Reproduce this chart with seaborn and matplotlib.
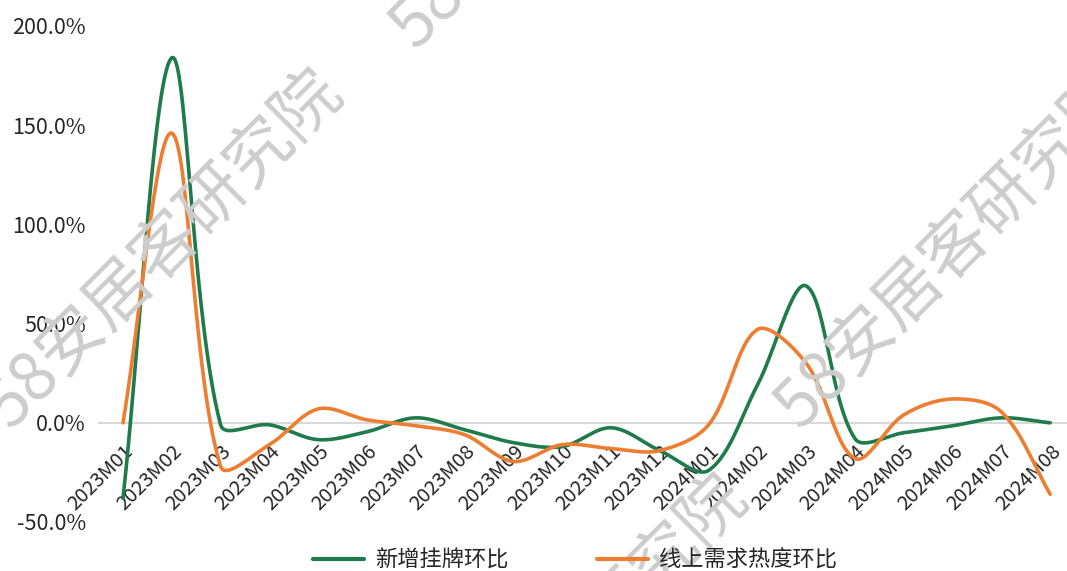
import numpy as np
import pandas as pd
import matplotlib.pyplot as plt
import seaborn as sns

# data (month-on-month %)
months = ["2023M01", "2023M02", "2023M03", "2023M04", "2023M05", "2023M06", "2023M07",
          "2023M08", "2023M09", "2023M10", "2023M11", "2023M12", "2024M01", "2024M02",
          "2024M03", "2024M04", "2024M05", "2024M06", "2024M07", "2024M08"]
new_listing = [-38, 184, -1, -1, -8.5, -4.5, 2.5, -3.5, -10, -12, -2.5, -14, -24, 19,
               69, -8, -5, -1.5, 2.5, 0]
online_demand = [0, 146, -22, -11, 7, 1.5, -1.5, -6, -19.5, -11, -13, -14, -1, 47,
                 30, -18, 4, 12, 5.5, -36]
series_names = ["新增挂牌环比", "线上需求热度环比"]
colors = ["#1F7A4C", "#ED7D31"]

W, H = 1067, 571
SX, SY = 48.8, 1.985  # screen pixels per category / per percent


def smooth(y, n=30):
    # excel-like smoothed line: bezier with distance-weighted tangents in screen space
    p = np.column_stack([np.arange(len(y)) * SX, np.asarray(y, float) * SY])
    p = np.vstack([p[0], p, p[-1]])
    out = []
    for i in range(1, len(p) - 2):
        p0, p1, p2, p3 = p[i - 1], p[i], p[i + 1], p[i + 2]
        d01 = np.linalg.norm(p1 - p0)
        d12 = np.linalg.norm(p2 - p1)
        d23 = np.linalg.norm(p3 - p2)
        c1 = p1 + (p2 - p0) * d12 / (d01 + d12) / 3 if d01 + d12 > 0 else p1
        c2 = p2 - (p3 - p1) * d12 / (d12 + d23) / 3 if d12 + d23 > 0 else p2
        t = np.linspace(0, 1, n)[:, None]
        seg = (1 - t) ** 3 * p1 + 3 * (1 - t) ** 2 * t * c1 + 3 * (1 - t) * t ** 2 * c2 + t ** 3 * p2
        out.append(seg if i == 1 else seg[1:])
    s = np.vstack(out)
    return s[:, 0] / SX, s[:, 1] / SY


frames = []
for name, vals in zip(series_names, [new_listing, online_demand]):
    sx, sy = smooth(vals)
    frames.append(pd.DataFrame({"x": sx, "y": sy, "series": name}))
df = pd.concat(frames, ignore_index=True)

sns.set_style("white")
plt.rcParams['font.family'] = ['Noto Sans CJK SC', 'DejaVu Sans']

fig = plt.figure(figsize=(W / 100, H / 100), dpi=100)
ax = fig.add_axes([98.6 / W, (H - 522) / H, (W - 98.6) / W, (522 - 26) / H])

# watermark
for cx, cy in [(165, 250), (955, 250), (570, -130), (570, 655)]:
    fig.text(cx / W, 1 - cy / H, "58安居客研究院", fontsize=48, color="#cdcdcd",
             rotation=45, ha="center", va="center", zorder=0)

sns.lineplot(data=df, x="x", y="y", hue="series", palette=colors, sort=False,
             estimator=None, linewidth=2.6, ax=ax, legend=False, zorder=3)

# x axis crosses at 0 (set before the labels, it resets the ticks)
for side in ["top", "right", "left"]:
    ax.spines[side].set_visible(False)
ax.spines["bottom"].set_position(("data", 0))
ax.spines["bottom"].set_color("#d9d9d9")
ax.spines["bottom"].set_linewidth(1.5)

ax.set_ylim(-50, 200)
ax.set_xlim(-0.5, -0.5 + (W - 98.6) / SX)
ax.set_yticks([-50, 0, 50, 100, 150, 200])
ax.set_yticklabels([f"{v:.1f}%" for v in [-50, 0, 50, 100, 150, 200]])
ax.set_xticks(range(len(months)))
ax.set_xticklabels(months)
ax.tick_params(axis="x", length=0, pad=13, labelsize=14.5)
ax.tick_params(axis="y", length=0, pad=9, labelsize=15.5)
plt.setp(ax.get_xticklabels(), rotation=45, ha="right", va="top", rotation_mode="anchor")
ax.set_xlabel("")
ax.set_ylabel("")
ax.patch.set_alpha(0)

handles = [plt.Line2D([], [], color=c, linewidth=3) for c in colors]
fig.legend(handles, series_names, loc="center", ncol=2, frameon=False,
           bbox_to_anchor=(575 / W, 11 / H), fontsize=16, handlelength=2.3,
           handletextpad=0.5, columnspacing=4.0)

fig.savefig("out.png", dpi=100)
